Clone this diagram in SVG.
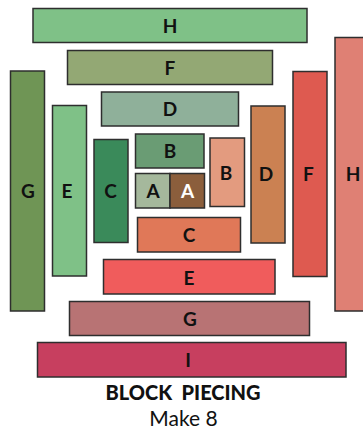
<svg xmlns="http://www.w3.org/2000/svg" width="363" height="432" viewBox="0 0 363 432">
<style>
rect{stroke:#2e2e2e;stroke-width:1.5}
text{font-family:Lato,"Open Sans","DejaVu Sans",sans-serif;font-weight:bold;font-size:19px;text-anchor:middle;fill:#111}
.w{fill:#fff}
.t{font-size:20px;font-weight:900}
.s{font-weight:normal;font-size:21px}
</style>
<rect width="363" height="432" fill="#fff" style="stroke:none"/>
<g id="H_top"><rect x="33" y="8.5" width="274" height="34" fill="#7fc187"/><text x="170" y="32.5">H</text></g>
<g id="F_top"><rect x="67.5" y="50.5" width="205" height="34" fill="#93a874"/><text x="170" y="74.5">F</text></g>
<g id="D_top"><rect x="101.5" y="92" width="137" height="34" fill="#8fb09a"/><text x="170" y="116">D</text></g>
<g id="G_left"><rect x="10.5" y="71" width="34" height="240" fill="#6f9555"/><text x="28" y="197.5">G</text></g>
<g id="E_left"><rect x="52.5" y="105.5" width="34" height="170.5" fill="#7fc187"/><text x="67" y="197.5">E</text></g>
<g id="C_left"><rect x="94" y="139.5" width="34" height="103" fill="#3a8a5a"/><text x="110.5" y="197.5">C</text></g>
<g id="B_top"><rect x="135.5" y="134" width="68.5" height="34" fill="#6a9c74"/><text x="170" y="158">B</text></g>
<g id="A_left"><rect x="135.5" y="173.5" width="34.5" height="34.5" fill="#a5b89c"/><text x="153" y="198">A</text></g>
<g id="A_right"><rect x="170" y="173.5" width="34.5" height="34.5" fill="#8b5e3c"/><text class="w" x="187.5" y="198">A</text></g>
<g id="B_right"><rect x="210" y="138" width="34.5" height="68.5" fill="#e39b7f"/><text x="226" y="180">B</text></g>
<g id="C_bottom"><rect x="137.5" y="217.5" width="103" height="34.5" fill="#e07858"/><text x="189" y="242">C</text></g>
<g id="D_right"><rect x="251" y="106" width="34" height="137" fill="#cb8152"/><text x="266" y="180.5">D</text></g>
<g id="F_right"><rect x="293" y="71.5" width="34" height="205" fill="#de5a50"/><text x="308.5" y="180.5">F</text></g>
<g id="H_right"><rect x="335" y="37.5" width="34" height="273.5" fill="#df8074"/><text x="353" y="180.5">H</text></g>
<g id="E_bottom"><rect x="103.5" y="259.5" width="171.5" height="34.5" fill="#f05c5c"/><text x="189" y="284.5">E</text></g>
<g id="G_bottom"><rect x="69.5" y="301.5" width="240" height="34" fill="#b87374"/><text x="190" y="326">G</text></g>
<g id="I_bottom"><rect x="37.5" y="342.5" width="308.5" height="34.5" fill="#c73f5f"/><text x="188" y="366.5">I</text></g>
<g id="title"><text class="t" x="183" y="400" xml:space="preserve">BLOCK  PIECING</text><text class="s" x="183.5" y="425.5">Make 8</text></g>
<g id="connectors"/>
</svg>
